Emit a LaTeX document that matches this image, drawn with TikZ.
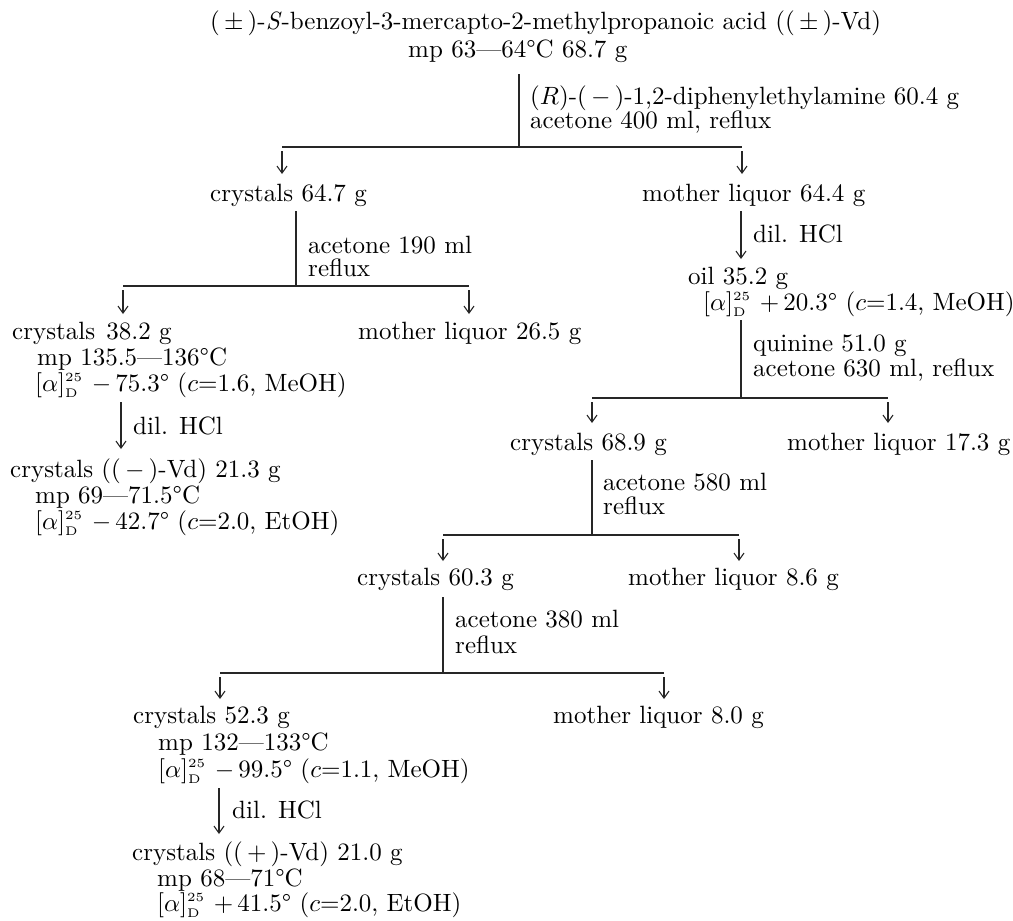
\documentclass[tikz,border=0pt]{standalone}
\usepackage{graphicx}
\usetikzlibrary{arrows.meta}
\newcommand{\T}[1]{\scalebox{2.5}{#1}}
\newcommand{\rot}[3]{$[\alpha]^{\scriptscriptstyle 25}_{\scriptscriptstyle\mathrm{D}}$ $#1$\,#2° ($c$=#3}
\begin{document}
\begin{tikzpicture}[x=1pt,y=-1pt,
  lbl/.style={inner sep=0pt, anchor=base west, font=\fontsize{10}{12}\selectfont, text=black},
  stem/.style={line width=1.3pt, draw=black!85},
  bar/.style={line width=1.5pt, draw=black!85},
  arr/.style={line width=1.1pt, draw=black!85, -{Straight Barb[length=7pt,width=10pt,line width=1.1pt]}}]
\fill[white] (0,0) rectangle (1013,921);
\useasboundingbox (0,0) rectangle (1013,921);

% ---------- title ----------
\node[lbl] (t1) at (210,29) {\T{(\,$\pm$\,)-\textit{S}-benzoyl-3-mercapto-2-methylpropanoic acid ((\,$\pm$\,)-Vd)}};
\node[lbl] (t2) at (408,57) {\T{mp 63—64°C 68.7 g}};
\coordinate (v0a) at (519,74);
\coordinate (j0) at (519,147);
\node[lbl] (l0a) at (530,104) {\T{($R$)-(\,$-$\,)-1,2-diphenylethylamine 60.4 g}};
\node[lbl] (l0b) at (530,128) {\T{acetone 400 ml, reflux}};
\coordinate (h0l) at (282,147);
\coordinate (h0r) at (742,147);
\coordinate (a0ls) at (282,151);
\coordinate (a0le) at (282,174);
\coordinate (a0rs) at (742,151);
\coordinate (a0re) at (742,174);
\draw[stem] (v0a) -- (j0);
\draw[bar] (h0l) -- (h0r);
\draw[arr] (a0ls) -- (a0le);
\draw[arr] (a0rs) -- (a0re);

% ---------- row A ----------
\node[lbl] (c1) at (210,201) {\T{crystals 64.7 g}};
\node[lbl] (m1) at (642,201) {\T{mother liquor 64.4 g}};

% left branch
\coordinate (v1a) at (296,211);
\coordinate (j1) at (296,286);
\node[lbl] (l1a) at (308,253) {\T{acetone 190 ml}};
\node[lbl] (l1b) at (308,276) {\T{reflux}};
\coordinate (h1l) at (123,286);
\coordinate (h1r) at (469,286);
\coordinate (a1ls) at (123,290);
\coordinate (a1le) at (123,314);
\coordinate (a1rs) at (469,290);
\coordinate (a1re) at (469,314);
\draw[stem] (v1a) -- (j1);
\draw[bar] (h1l) -- (h1r);
\draw[arr] (a1ls) -- (a1le);
\draw[arr] (a1rs) -- (a1re);

\node[lbl] (c2) at (12,339) {\T{crystals\hspace{0.45em}38.2 g}};
\node[lbl] (c2mp) at (37,365) {\T{mp 135.5—136°C}};
\node[lbl] (c2a) at (35,391) {\T{\rot{-}{75.3}{1.6, MeOH)}}};
\node[lbl] (m2) at (358,339) {\T{mother liquor 26.5 g}};

\coordinate (d1s) at (121,402);
\coordinate (d1e) at (121,449);
\draw[arr] (d1s) -- (d1e);
\node[lbl] (d1) at (133,434) {\T{dil. HCl}};

\node[lbl] (c3) at (10,477) {\T{crystals ((\,$-$\,)-Vd) 21.3 g}};
\node[lbl] (c3mp) at (35,503) {\T{mp 69—71.5°C}};
\node[lbl] (c3a) at (35,529) {\T{\rot{-}{42.7}{2.0, EtOH)}}};

% right branch
\coordinate (d2s) at (741,211);
\coordinate (d2e) at (741,259);
\draw[arr] (d2s) -- (d2e);
\node[lbl] (d2) at (753,242) {\T{dil. HCl}};
\node[lbl] (o1) at (688,284) {\T{oil 35.2 g}};
\node[lbl] (o1a) at (703,310) {\T{\rot{+}{20.3}{1.4, MeOH)}}};

\coordinate (v2a) at (741,320);
\coordinate (j2) at (741,398);
\node[lbl] (l2a) at (753,351) {\T{quinine 51.0 g}};
\node[lbl] (l2b) at (753,376) {\T{acetone 630 ml, reflux}};
\coordinate (h2l) at (592,398);
\coordinate (h2r) at (888,398);
\coordinate (a2ls) at (592,402);
\coordinate (a2le) at (592,423);
\coordinate (a2rs) at (888,402);
\coordinate (a2re) at (888,423);
\draw[stem] (v2a) -- (j2);
\draw[bar] (h2l) -- (h2r);
\draw[arr] (a2ls) -- (a2le);
\draw[arr] (a2rs) -- (a2re);

\node[lbl] (c4) at (510,450) {\T{crystals 68.9 g}};
\node[lbl] (m4) at (787,450) {\T{mother liquor 17.3 g}};

\coordinate (v3a) at (592,460);
\coordinate (j3) at (592,535);
\node[lbl] (l3a) at (603,490) {\T{acetone 580 ml}};
\node[lbl] (l3b) at (603,514) {\T{reflux}};
\coordinate (h3l) at (443,535);
\coordinate (h3r) at (739,535);
\coordinate (a3ls) at (443,539);
\coordinate (a3le) at (443,561);
\coordinate (a3rs) at (739,539);
\coordinate (a3re) at (739,561);
\draw[stem] (v3a) -- (j3);
\draw[bar] (h3l) -- (h3r);
\draw[arr] (a3ls) -- (a3le);
\draw[arr] (a3rs) -- (a3re);

\node[lbl] (c5) at (357,585) {\T{crystals 60.3 g}};
\node[lbl] (m5) at (628,585) {\T{mother liquor 8.6 g}};

\coordinate (v4a) at (443,597);
\coordinate (j4) at (443,673);
\node[lbl] (l4a) at (455,627) {\T{acetone 380 ml}};
\node[lbl] (l4b) at (455,653) {\T{reflux}};
\coordinate (h4l) at (220,673);
\coordinate (h4r) at (664,673);
\coordinate (a4ls) at (220,677);
\coordinate (a4le) at (220,699);
\coordinate (a4rs) at (664,677);
\coordinate (a4re) at (664,699);
\draw[stem] (v4a) -- (j4);
\draw[bar] (h4l) -- (h4r);
\draw[arr] (a4ls) -- (a4le);
\draw[arr] (a4rs) -- (a4re);

\node[lbl] (c6) at (133,723) {\T{crystals 52.3 g}};
\node[lbl] (c6mp) at (158,750) {\T{mp 132—133°C}};
\node[lbl] (c6a) at (158,777) {\T{\rot{-}{99.5}{1.1, MeOH)}}};
\node[lbl] (m6) at (553,723) {\T{mother liquor 8.0 g}};

\coordinate (d3s) at (219,788);
\coordinate (d3e) at (219,834);
\draw[arr] (d3s) -- (d3e);
\node[lbl] (d3) at (232,818) {\T{dil. HCl}};

\node[lbl] (c7) at (132,860) {\T{crystals ((\,$+$\,)-Vd) 21.0 g}};
\node[lbl] (c7mp) at (157,886) {\T{mp 68—71°C}};
\node[lbl] (c7a) at (157,911) {\T{\rot{+}{41.5}{2.0, EtOH)}}};
\end{tikzpicture}
\end{document}
